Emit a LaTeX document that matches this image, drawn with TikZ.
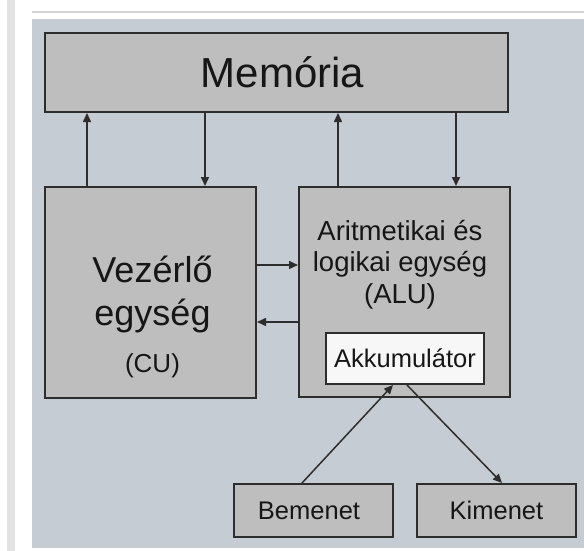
\documentclass[tikz,border=0pt]{standalone}
\usepackage{fontspec}
\setmainfont{Liberation Sans}
\usetikzlibrary{arrows.meta}
\definecolor{panel}{RGB}{197,204,211}
\definecolor{unitgray}{RGB}{190,190,190}
\definecolor{edge}{RGB}{45,45,45}
\definecolor{ink}{RGB}{22,22,22}
\tikzset{
  unit/.style={draw=edge, line width=2pt, fill=unitgray, inner sep=0pt,
    text=ink, text depth=0pt},
  small/.style={font=\fontsize{25.5}{30}\selectfont, text height=18.3pt},
  flow/.style={draw=edge, line width=1.5pt, -{Triangle[length=9pt,width=8pt]}},
  caption/.style={text=ink, anchor=base, align=center}
}
\begin{document}
\begin{tikzpicture}[x=1pt,y=-1pt]
  \useasboundingbox (0,0) rectangle (584,551);
  \fill[white] (0,0) rectangle (584,551);
  \fill[black!11] (7,0) rectangle (15,551);
  \draw[black!17, line width=2.5pt] (32,12) -- (584,12);
  \fill[panel] (32,19) rectangle (584,548);

  \node[unit, minimum width=463pt, minimum height=79pt,
    font=\fontsize{42}{50}\selectfont, text height=30pt]
    (mem) at (276.5,72.5) {\hspace*{12pt}Memória};
  \node[unit, minimum width=211pt, minimum height=211pt] (cu) at (150.5,292.5) {};
  \node[unit, minimum width=211pt, minimum height=210pt] (alu) at (404.5,292) {};
  \node[unit, small, fill=black!3, minimum width=158pt, minimum height=51pt]
    (akk) at (405,358.5) {Akkumulátor};
  \node[unit, small, minimum width=159pt, minimum height=53pt]
    (bem) at (313.5,510.5) {\hspace*{-9pt}Bemenet};
  \node[unit, small, minimum width=159pt, minimum height=53pt]
    (kim) at (496.5,510.5) {Kimenet};

  \node[caption, font=\fontsize{36}{43}\selectfont] (cutext) at (152.5,372)
    {Vezérlő\\egység\\[4pt]{\fontsize{26}{30}\selectfont (CU)}};
  \node[caption, font=\fontsize{27.5}{31.5}\selectfont] (alutext) at (400,303)
    {Aritmetikai és\\logikai egység\\(ALU)};

  \begin{scope}[flow]
    \draw ([xshift=-63.5pt]cu.north) -- ([xshift=-63.5pt]cu.north |- mem.south);
    \draw ([xshift=54.5pt]cu.north |- mem.south) -- ([xshift=54.5pt]cu.north);
    \draw ([xshift=-66.5pt]alu.north) -- ([xshift=-66.5pt]alu.north |- mem.south);
    \draw ([xshift=51.5pt]alu.north |- mem.south) -- ([xshift=51.5pt]alu.north);
    \draw ([yshift=27.5pt]cu.east) -- ([yshift=27.5pt]cu.east -| alu.west);
    \draw ([yshift=-29.5pt]cu.east -| alu.west) -- ([yshift=-29.5pt]cu.east);
    \draw ([xshift=-11.5pt]bem.north) -- ([xshift=-12pt]akk.south);
    \draw ([xshift=2pt]akk.south) -- ([xshift=5.5pt]kim.north);
  \end{scope}
\end{tikzpicture}
\end{document}
